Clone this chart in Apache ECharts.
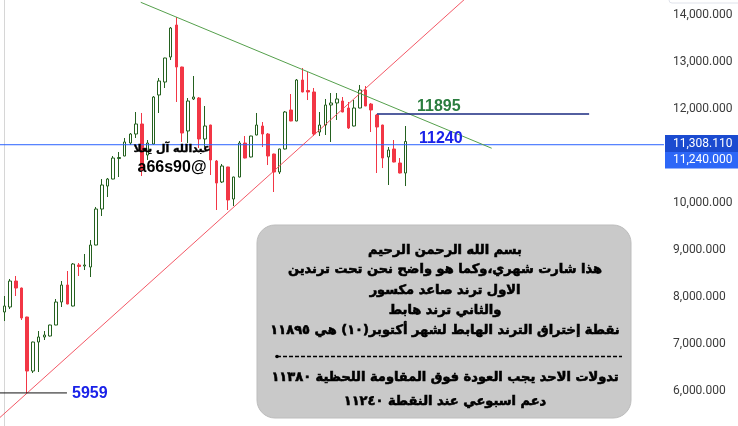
<!DOCTYPE html>
<html><head><meta charset="utf-8">
<script src="https://cdn.jsdelivr.net/npm/echarts@6/dist/echarts.min.js"></script>
<style>html,body{margin:0;padding:0;background:#fff}#c{width:738px;height:426px}</style>
</head><body><div id="c"></div>
<script>
const categories = ("2019-11 2019-12 " +
 "2020-01 2020-02 2020-03 2020-04 2020-05 2020-06 2020-07 2020-08 2020-09 2020-10 2020-11 2020-12 " +
 "2021-01 2021-02 2021-03 2021-04 2021-05 2021-06 2021-07 2021-08 2021-09 2021-10 2021-11 2021-12 " +
 "2022-01 2022-02 2022-03 2022-04 2022-05 2022-06 2022-07 2022-08 2022-09 2022-10 2022-11 2022-12 " +
 "2023-01 2023-02 2023-03 2023-04 2023-05 2023-06 2023-07 2023-08 2023-09 2023-10 2023-11 2023-12 " +
 "2024-01 2024-02 2024-03 2024-04 2024-05 2024-06 2024-07 2024-08 2024-09 2024-10 2024-11 2024-12 " +
 "2025-01 2025-02 2025-03 2025-04 2025-05 2025-06 2025-07 2025-08 2025-09 2025-10 2025-11 2025-12 " +
 "2026-01 2026-02 2026-03 2026-04 2026-05 2026-06 2026-07 2026-08 2026-09 2026-10 2026-11 2026-12 " +
 "2027-01 2027-02 2027-03 2027-04 2027-05 2027-06 2027-07 2027-08 2027-09 2027-10 2027-11 2027-12 " +
 "2028-01 2028-02 2028-03 2028-04 2028-05 2028-06 2028-07 2028-08 2028-09 2028-10 2028-11 2028-12 " +
 "2029-01 2029-02 2029-03 2029-04 2029-05 2029-06").split(" ");

const opens = [7681,7787,8340,8191,7574,6425,7042,7149,7170,7404,
 7893,8255,7808,8681,8659,8638,9106,9872,10361,10510,
 10946,11000,11276,11468,11681,11021,11255,12298,12574,13106,
 13787,12893,11532,12213,12234,11362,11659,10893,10447,10766,
 10085,10553,11276,10979,11447,11638,11468,11042,10659,11149,
 11979,11745,12617,12393,12362,11510,11659,12085,12128,12170,
 12021,11638,12021,12404,12106,11872,11659,10979,11149,10851,10638];
const closes = [7808,8340,8191,7553,6425,7042,7149,7191,7404,7893,
 8255,7851,8702,8649,8681,9106,9872,10383,10510,10957,
 10968,11298,11468,11681,10702,11276,12255,12596,13085,13723,
 12893,11489,12170,12255,11362,11638,10915,10425,10787,10064,
 10553,11276,10957,11425,11659,11468,11000,10659,11149,11936,
 11745,12617,12362,12362,11468,11659,12085,12128,12213,11936,
 11596,12021,12404,12064,11979,11617,10957,11127,10872,10638,11308.11];
const lows = [7489,7744,8021,7510,5959,6383,6404,7085,7160,7400,
 7787,7845,7800,8447,8574,8425,9100,9723,10127,10505,
 10553,10995,11234,11383,10574,10915,11234,11915,12447,13042,
 12149,11298,11276,12191,11170,11191,10596,9851,10425,9851,
 9936,10545,10950,10970,11440,11191,10808,10234,10617,11140,
 11740,11740,12355,12191,11425,11425,11447,11298,11766,11930,
 11574,11630,12015,12060,11510,10638,10744,10383,10865,10630,10361];
const highs = [8021,8383,8447,8200,7580,7050,7276,7276,7410,7957,
 8340,8553,8723,8723,8915,9212,9915,10510,10532,11000,
 11085,11383,11489,11936,11915,11340,12276,12659,13090,13745,
 13957,12900,12234,12702,12255,12064,11665,10915,10830,10770,
 10560,11319,11425,11430,11915,11723,11489,11050,11155,11957,
 12319,12638,12872,12787,12447,11936,12213,12340,12340,12255,
 12149,12191,12511,12489,12128,11895,11665,11191,11340,10957,11638];

// trend lines: [category position, value]
const risingTrend = [[-1, 5410], [82, 14523]];
const fallingTrend = [[23.8, 14270], [85.0, 11165]];
// levels
const breakoutLevel = 11895, breakoutSpan = [65.0, 102.0];
const supportLevel = 11240, supportSpan = [-0.75, 115.05];
const lowLevel = 5959, lowSpan = [-0.75, 10.93];
const lastPrice = 11308.11;
const yTicks = {min: 5000, max: 15000, interval: 1000};

const signature = ["عبدالله آل يعلا", "a66s90@"];
const notes = [
 "بسم الله الرحمن الرحيم",
 "هذا شارت شهري،وكما هو واضح نحن تحت ترندين",
 "الاول ترند صاعد مكسور",
 "والثاني ترند هابط",
 "نقطة إختراق الترند الهابط لشهر أكتوبر(١٠) هي ١١٨٩٥",
 "تدولات الاحد يجب العودة فوق المقاومة اللحظية ١١٣٨٠",
 "دعم اسبوعي عند النقطة ١١٢٤٠"
];

const candleData = opens.map((o, i) => [o, closes[i], lows[i], highs[i]]);
const fmt = v => v.toLocaleString('en-US', {minimumFractionDigits: 3, maximumFractionDigits: 3});

const chart = echarts.init(document.getElementById('c'), null, {renderer: 'canvas'});
const lineS = (data, color, width, z) => ({
  type: 'line', xAxisIndex: 1, yAxisIndex: 0, data, symbol: 'none', silent: true,
  lineStyle: {color, width}, z, animation: false
});
chart.setOption({
  animation: false,
  backgroundColor: '#ffffff',
  grid: {left: 1.43, top: -32, width: 665.1, height: 470, containLabel: false, outerBoundsMode: 'none'},
  xAxis: [
    {type: 'category', data: categories, show: false},
    {type: 'value', min: -0.5, max: categories.length - 0.5, show: false}
  ],
  yAxis: {
    type: 'value', position: 'right', offset: -2.5,
    min: yTicks.min, max: yTicks.max, interval: yTicks.interval, scale: true,
    axisLine: {show: true, lineStyle: {color: '#d6d6d6', width: 1}},
    axisTick: {show: false}, splitLine: {show: false},
    axisLabel: {color: '#3b3b3b', fontSize: 12, fontFamily: 'Roboto', margin: 9, formatter: fmt}
  },
  series: [
    {type: 'candlestick', data: candleData, barWidth: 3, z: 2,
     itemStyle: {color: '#ffffff', color0: '#f23645', borderColor: '#24611f', borderColor0: '#f23645', borderWidth: 1}},
    lineS(supportSpan.map(x => [x, supportLevel]), '#2962ff', 1, 3),
    lineS(risingTrend, 'rgba(242,70,85,0.9)', 1, 4),
    lineS(fallingTrend, '#55a04c', 1, 4),
    lineS(breakoutSpan.map(x => [x, breakoutLevel]), '#1a2a80', 1.5, 4),
    lineS(lowSpan.map(x => [x, lowLevel]), '#111111', 1, 4)
  ]
});

const py = v => chart.convertToPixel({yAxisIndex: 0}, v);
const yB = py(breakoutLevel), yS = py(supportLevel), yL = py(lowLevel), yP = py(lastPrice);
const numFont = 'bold 16px "Liberation Sans", Arial, sans-serif';
const arFont = 'bold 13px "DejaVu Sans", sans-serif';
const g = [];
g.push({type: 'text', x: 417, y: yB - 7.5, style: {text: String(breakoutLevel), font: numFont, fill: '#2b7d3f', verticalAlign: 'middle'}, z: 10});
g.push({type: 'text', x: 419, y: yS - 6, style: {text: String(supportLevel), font: numFont, fill: '#1a22e8', verticalAlign: 'middle'}, z: 10});
g.push({type: 'text', x: 72, y: yL + 0.5, style: {text: String(lowLevel), font: numFont, fill: '#1a22e8', verticalAlign: 'middle'}, z: 10});
g.push({type: 'text', x: 172, y: 149, style: {text: signature[0], font: 'bold 11px "DejaVu Sans", sans-serif', fill: '#000', stroke: '#000', lineWidth: 0.4, align: 'center', verticalAlign: 'middle'}, z: 10});
g.push({type: 'text', x: 172, y: 168, style: {text: signature[1], font: 'bold 16px "Liberation Sans", Arial, sans-serif', fill: '#000', align: 'center', verticalAlign: 'middle'}, z: 10});
// price labels on axis
g.push({type: 'rect', shape: {x: 665, y: yP - 6.5, width: 73, height: 17}, style: {fill: '#1b4bd0'}, z: 10});
g.push({type: 'text', x: 673, y: yP + 2, style: {text: fmt(lastPrice), font: '12px Roboto', fill: '#fff', verticalAlign: 'middle'}, z: 11});
g.push({type: 'rect', shape: {x: 665, y: yP + 10.5, width: 73, height: 16.5}, style: {fill: '#2d67f7'}, z: 10});
g.push({type: 'text', x: 673, y: yP + 18.5, style: {text: fmt(supportLevel), font: '12px Roboto', fill: '#fff', verticalAlign: 'middle'}, z: 11});
g.push({type: 'rect', shape: {x: 669, y: -8, width: 80, height: 11, r: 3}, style: {fill: 'none', stroke: '#e0e3eb'}, z: 10});
// note box
g.push({type: 'rect', shape: {x: 257, y: 225, width: 374, height: 193, r: 18}, style: {fill: '#c9c9c9', stroke: '#bdbdbd', lineWidth: 1}, z: 20});
const noteY = [251, 270, 291, 311, 331, 378, 401.5];
notes.forEach((t, i) => g.push({type: 'text', x: 445, y: noteY[i], style: {text: t, font: arFont, fill: '#000', stroke: '#000', lineWidth: 0.6, align: 'center', verticalAlign: 'middle'}, z: 21}));
g.push({type: 'line', shape: {x1: 277, y1: 356.5, x2: 622, y2: 356.5}, style: {stroke: '#000', lineWidth: 1.3, lineDash: [4, 2]}, z: 21});
g.push({type: 'circle', shape: {cx: 277, cy: 356.5, r: 1.8}, style: {fill: '#000'}, z: 21});
chart.setOption({graphic: g});
</script></body></html>
